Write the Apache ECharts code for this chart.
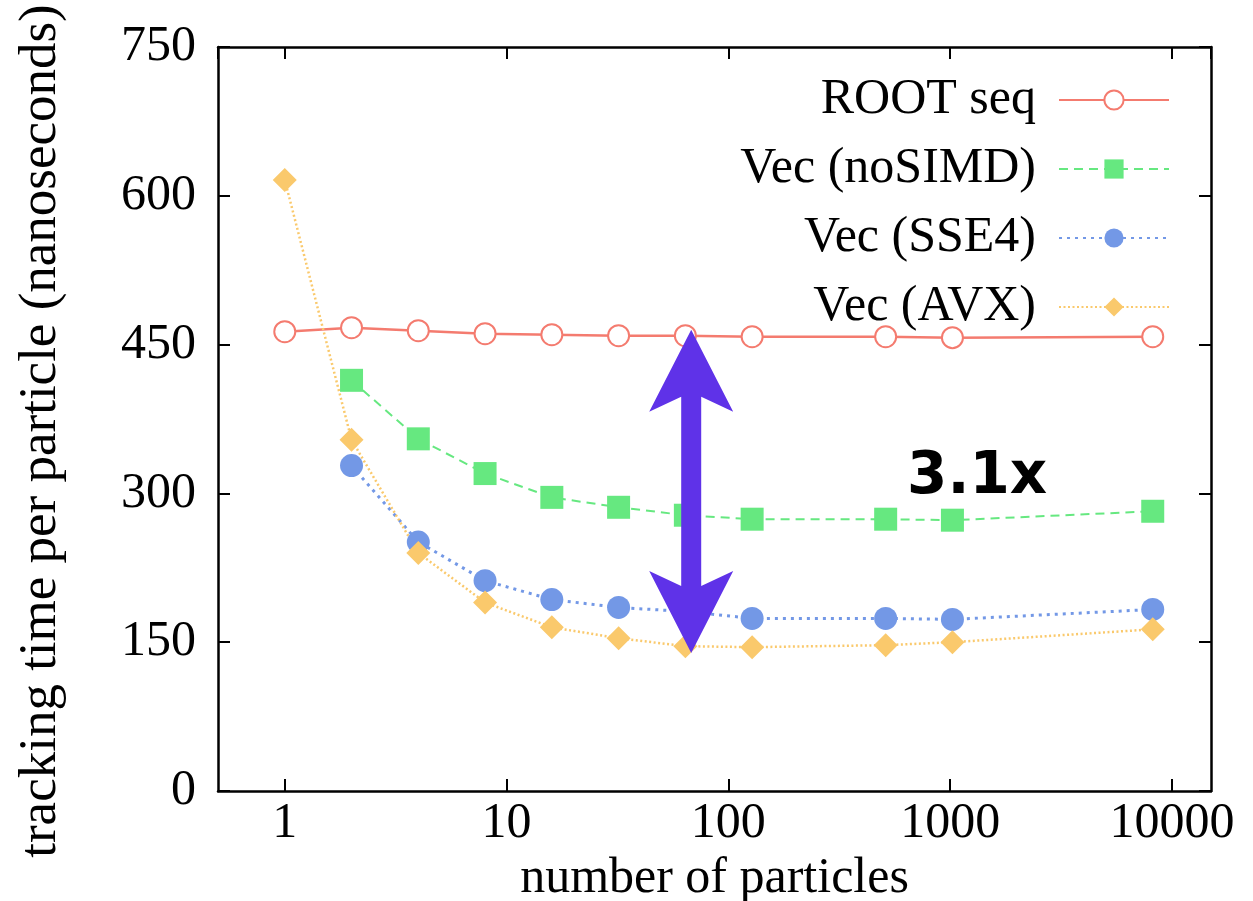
<!doctype html>
<html>
<head>
<meta charset="utf-8">
<title>tracking time per particle</title>
<script src="https://cdn.jsdelivr.net/npm/echarts@6/dist/echarts.min.js"></script>
<style>
html,body{margin:0;padding:0;background:#fff;}
#chart{width:1253px;height:901px;}
</style>
</head>
<body>
<div id="chart"></div>
<script type="text/javascript">
// number of particles
var particles = [1, 2, 4, 8, 16, 32, 64, 128, 512, 1024, 8192];
// tracking time per particle (ns), null where no measurement
var rootSeq  = [463, 467, 464, 461, 460, 459, 459, 458, 458, 457, 458];
var vecNoSimd = [null, 414, 355, 320, 296, 286, 278, 274, 274, 273, 282];
var vecSse4  = [null, 328, 251, 212, 193, 185, 181, 174, 174, 173, 183];
var vecAvx   = [616, 354, 240, 190, 165, 154, 146, 145, 147, 150, 163];
var yTicks = [0, 150, 300, 450, 600, 750];
var arrowX = 68, arrowTop = 465, arrowBottom = 139;

var serif = 'Liberation Serif';

function pairs(vals){
	var out = [];
	for(var i=0;i<particles.length;i++){
		if(vals[i]!=null){ out.push([particles[i], vals[i]]); }
	}
	return out;
}

var chart = echarts.init(document.getElementById('chart'));

var xCommon = {
	type: 'log',
	min: 0.5,
	max: 15000,
	logBase: 10,
	axisLine: {show: true, onZero: false, lineStyle: {color: '#000', width: 2.5}},
	axisTick: {show: true, inside: true, length: 12, lineStyle: {color: '#000', width: 2}},
	splitLine: {show: false}
};
var yCommon = {
	type: 'value',
	min: yTicks[0],
	max: yTicks[yTicks.length-1],
	interval: 150,
	axisLine: {show: true, lineStyle: {color: '#000', width: 2.5}},
	axisTick: {show: true, inside: true, length: 12, lineStyle: {color: '#000', width: 2}},
	splitLine: {show: false}
};

var option = {
	animation: false,
	grid: {left: 218, right: 42, top: 47, bottom: 110, outerBoundsMode: 'none', containLabel: false},
	legend: {
		orient: 'vertical',
		right: 78,
		top: 70,
		align: 'right',
		itemWidth: 110,
		itemHeight: 24,
		itemGap: 19,
		textStyle: {fontFamily: serif, fontSize: 50, color: '#000', padding: [0, 18, 0, 0]},
		data: ['ROOT seq', 'Vec (noSIMD)', 'Vec (SSE4)', 'Vec (AVX)']
	},
	xAxis: [
		Object.assign({}, xCommon, {
			position: 'bottom',
			name: 'number of particles',
			nameLocation: 'middle',
			nameGap: 62,
			nameTextStyle: {fontFamily: serif, fontSize: 50, color: '#000'},
			axisLabel: {
				fontFamily: serif, fontSize: 50, color: '#000', margin: 8,
				showMinLabel: false, showMaxLabel: false,
				formatter: function(v){ return String(v); }
			}
		}),
		Object.assign({}, xCommon, {position: 'top', axisLabel: {show: false}})
	],
	yAxis: [
		Object.assign({}, yCommon, {
			position: 'left',
			name: 'tracking time per particle (nanoseconds)',
			nameLocation: 'middle',
			nameGap: 150,
			nameTextStyle: {fontFamily: serif, fontSize: 53, color: '#000', padding: [0, 24, 0, 0]},
			axisLabel: {fontFamily: serif, fontSize: 50, color: '#000', margin: 22}
		}),
		Object.assign({}, yCommon, {position: 'right', axisLabel: {show: false}})
	],
	series: [
		{
			name: 'ROOT seq',
			type: 'line',
			data: pairs(rootSeq),
			symbol: 'emptyCircle',
			symbolSize: 21,
			z: 3,
			itemStyle: {color: '#F47B6F', borderWidth: 2.5},
			lineStyle: {color: '#F47B6F', width: 2.5, type: 'solid'}
		},
		{
			name: 'Vec (noSIMD)',
			type: 'line',
			data: pairs(vecNoSimd),
			symbol: 'rect',
			symbolSize: 23,
			itemStyle: {color: '#66E880'},
			lineStyle: {color: '#66E880', width: 2, type: [9, 6]}
		},
		{
			name: 'Vec (SSE4)',
			type: 'line',
			data: pairs(vecSse4),
			symbol: 'circle',
			symbolSize: 23,
			itemStyle: {color: '#7398E6'},
			lineStyle: {color: '#7398E6', width: 3, type: [3, 5]}
		},
		{
			name: 'Vec (AVX)',
			type: 'line',
			data: pairs(vecAvx),
			symbol: 'diamond',
			symbolSize: 24,
			itemStyle: {color: '#FAC96C'},
			lineStyle: {color: '#FAC96C', width: 2.5, type: [2, 2.5]}
		}
	]
};
chart.setOption(option);

// double headed arrow and speed-up label, placed from data coordinates
function drawNotes(){
	var top = chart.convertToPixel({xAxisIndex: 0, yAxisIndex: 0}, [arrowX, arrowTop]);
	var bot = chart.convertToPixel({xAxisIndex: 0, yAxisIndex: 0}, [arrowX, arrowBottom]);
	var cx = top[0];
	var hw = 10, bw = 42, hl = 82, notch = 15;
	var pts = [
		[cx, top[1]],
		[cx + bw, top[1] + hl],
		[cx + hw, top[1] + hl - notch],
		[cx + hw, bot[1] - hl + notch],
		[cx + bw, bot[1] - hl],
		[cx, bot[1]],
		[cx - bw, bot[1] - hl],
		[cx - hw, bot[1] - hl + notch],
		[cx - hw, top[1] + hl - notch],
		[cx - bw, top[1] + hl]
	];
	var lbl = chart.convertToPixel({xAxisIndex: 0, yAxisIndex: 0}, [1000, 300]);
	chart.setOption({
		graphic: [
			{type: 'polygon', z: 100, shape: {points: pts}, style: {fill: '#5F32E8'}},
			{
				type: 'text', z: 100, x: lbl[0] + 27, y: lbl[1] - 15,
				style: {
					text: '3.1x', fill: '#000', align: 'center', verticalAlign: 'middle',
					font: 'bold 58px "DejaVu Sans"'
				}
			}
		]
	});
}
drawNotes();
</script>
</body>
</html>
